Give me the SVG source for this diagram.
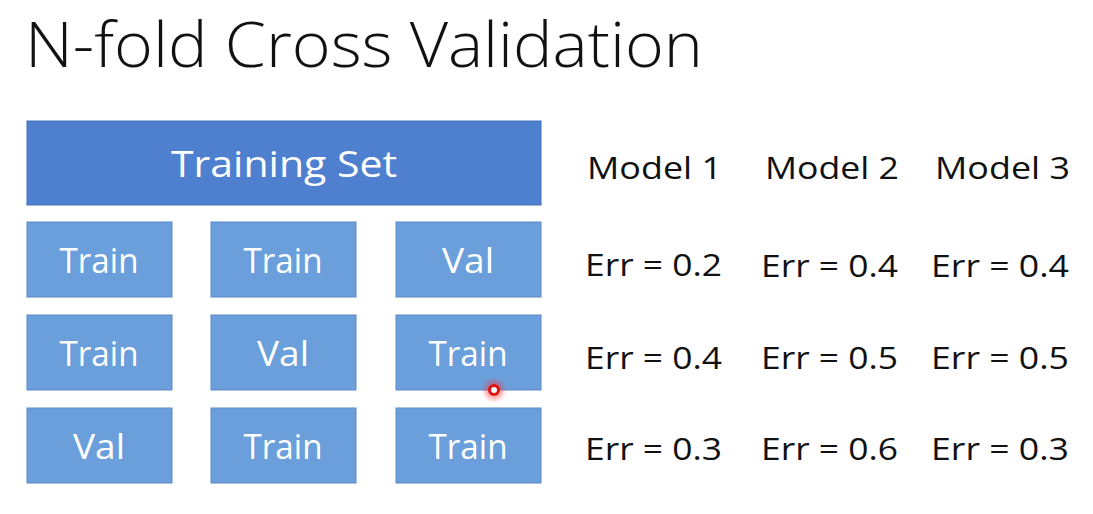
<svg xmlns="http://www.w3.org/2000/svg" width="1093" height="514" viewBox="0 0 1093 514">
  <style>
    .title { font-family: "Open Sans", "Liberation Sans", sans-serif; font-weight: 300; font-size: 62px; fill: #111; }
    .head { fill: #4F80D0; stroke: #4470B8; stroke-width: 1; }
    .fold { fill: #6A9FDB; stroke: #5A89C4; stroke-width: 1; }
    .boxtxt { font-family: "Open Sans", "Liberation Sans", sans-serif; font-size: 34px; fill: #fff; text-anchor: middle; }
    .headtxt { font-family: "Open Sans", "Liberation Sans", sans-serif; font-size: 37px; fill: #fff; text-anchor: middle; }
    .lbl { font-family: "Open Sans", "Liberation Sans", sans-serif; font-size: 31px; fill: #111; }
  </style>
  <defs>
    <radialGradient id="glow">
      <stop offset="0" stop-color="#ff3030" stop-opacity="0.8"/>
      <stop offset="1" stop-color="#ff3030" stop-opacity="0"/>
    </radialGradient>
  </defs>
  <rect width="1093" height="514" fill="#fff"/>

  <text class="title" x="25" y="67" textLength="678" lengthAdjust="spacingAndGlyphs">N-fold Cross Validation</text>

  <g id="training-set">
    <rect class="head" x="27" y="121" width="514" height="84"/>
    <text class="headtxt" x="284" y="177" textLength="226" lengthAdjust="spacingAndGlyphs">Training Set</text>
  </g>

  <!-- fold 1 -->
  <g id="f1c1"><rect class="fold" x="27" y="222" width="145" height="75"/><text class="boxtxt" x="99" y="273" textLength="79" lengthAdjust="spacingAndGlyphs">Train</text></g>
  <g id="f1c2"><rect class="fold" x="211" y="222" width="145" height="75"/><text class="boxtxt" x="283" y="273" textLength="79" lengthAdjust="spacingAndGlyphs">Train</text></g>
  <g id="f1c3"><rect class="fold" x="396" y="222" width="145" height="75"/><text class="boxtxt" x="468" y="273" textLength="52" lengthAdjust="spacingAndGlyphs">Val</text></g>
  <!-- fold 2 -->
  <g id="f2c1"><rect class="fold" x="27" y="315" width="145" height="75"/><text class="boxtxt" x="99" y="366" textLength="79" lengthAdjust="spacingAndGlyphs">Train</text></g>
  <g id="f2c2"><rect class="fold" x="211" y="315" width="145" height="75"/><text class="boxtxt" x="283" y="366" textLength="52" lengthAdjust="spacingAndGlyphs">Val</text></g>
  <g id="f2c3"><rect class="fold" x="396" y="315" width="145" height="75"/><text class="boxtxt" x="468" y="366" textLength="79" lengthAdjust="spacingAndGlyphs">Train</text></g>
  <!-- fold 3 -->
  <g id="f3c1"><rect class="fold" x="27" y="408" width="145" height="75"/><text class="boxtxt" x="99" y="459" textLength="52" lengthAdjust="spacingAndGlyphs">Val</text></g>
  <g id="f3c2"><rect class="fold" x="211" y="408" width="145" height="75"/><text class="boxtxt" x="283" y="459" textLength="79" lengthAdjust="spacingAndGlyphs">Train</text></g>
  <g id="f3c3"><rect class="fold" x="396" y="408" width="145" height="75"/><text class="boxtxt" x="468" y="459" textLength="79" lengthAdjust="spacingAndGlyphs">Train</text></g>

  <g id="models">
    <text class="lbl" x="587" y="179" textLength="135" lengthAdjust="spacingAndGlyphs">Model 1</text>
    <text class="lbl" x="765" y="179" textLength="134" lengthAdjust="spacingAndGlyphs">Model 2</text>
    <text class="lbl" x="935" y="179" textLength="135" lengthAdjust="spacingAndGlyphs">Model 3</text>
  </g>

  <g id="errors">
    <text class="lbl" x="585" y="276" textLength="137" lengthAdjust="spacingAndGlyphs">Err = 0.2</text>
    <text class="lbl" x="761" y="277" textLength="137" lengthAdjust="spacingAndGlyphs">Err = 0.4</text>
    <text class="lbl" x="931" y="277" textLength="138" lengthAdjust="spacingAndGlyphs">Err = 0.4</text>
    <text class="lbl" x="585" y="369" textLength="137" lengthAdjust="spacingAndGlyphs">Err = 0.4</text>
    <text class="lbl" x="761" y="369" textLength="137" lengthAdjust="spacingAndGlyphs">Err = 0.5</text>
    <text class="lbl" x="931" y="369" textLength="138" lengthAdjust="spacingAndGlyphs">Err = 0.5</text>
    <text class="lbl" x="585" y="460" textLength="137" lengthAdjust="spacingAndGlyphs">Err = 0.3</text>
    <text class="lbl" x="761" y="460" textLength="137" lengthAdjust="spacingAndGlyphs">Err = 0.6</text>
    <text class="lbl" x="931" y="460" textLength="138" lengthAdjust="spacingAndGlyphs">Err = 0.3</text>
  </g>

  <!-- pointer dot -->
  <g id="pointer">
    <circle cx="494" cy="390" r="13" fill="url(#glow)"/>
    <circle cx="494" cy="390" r="4.5" fill="#fff" stroke="#e01010" stroke-width="3"/>
  </g>
</svg>
